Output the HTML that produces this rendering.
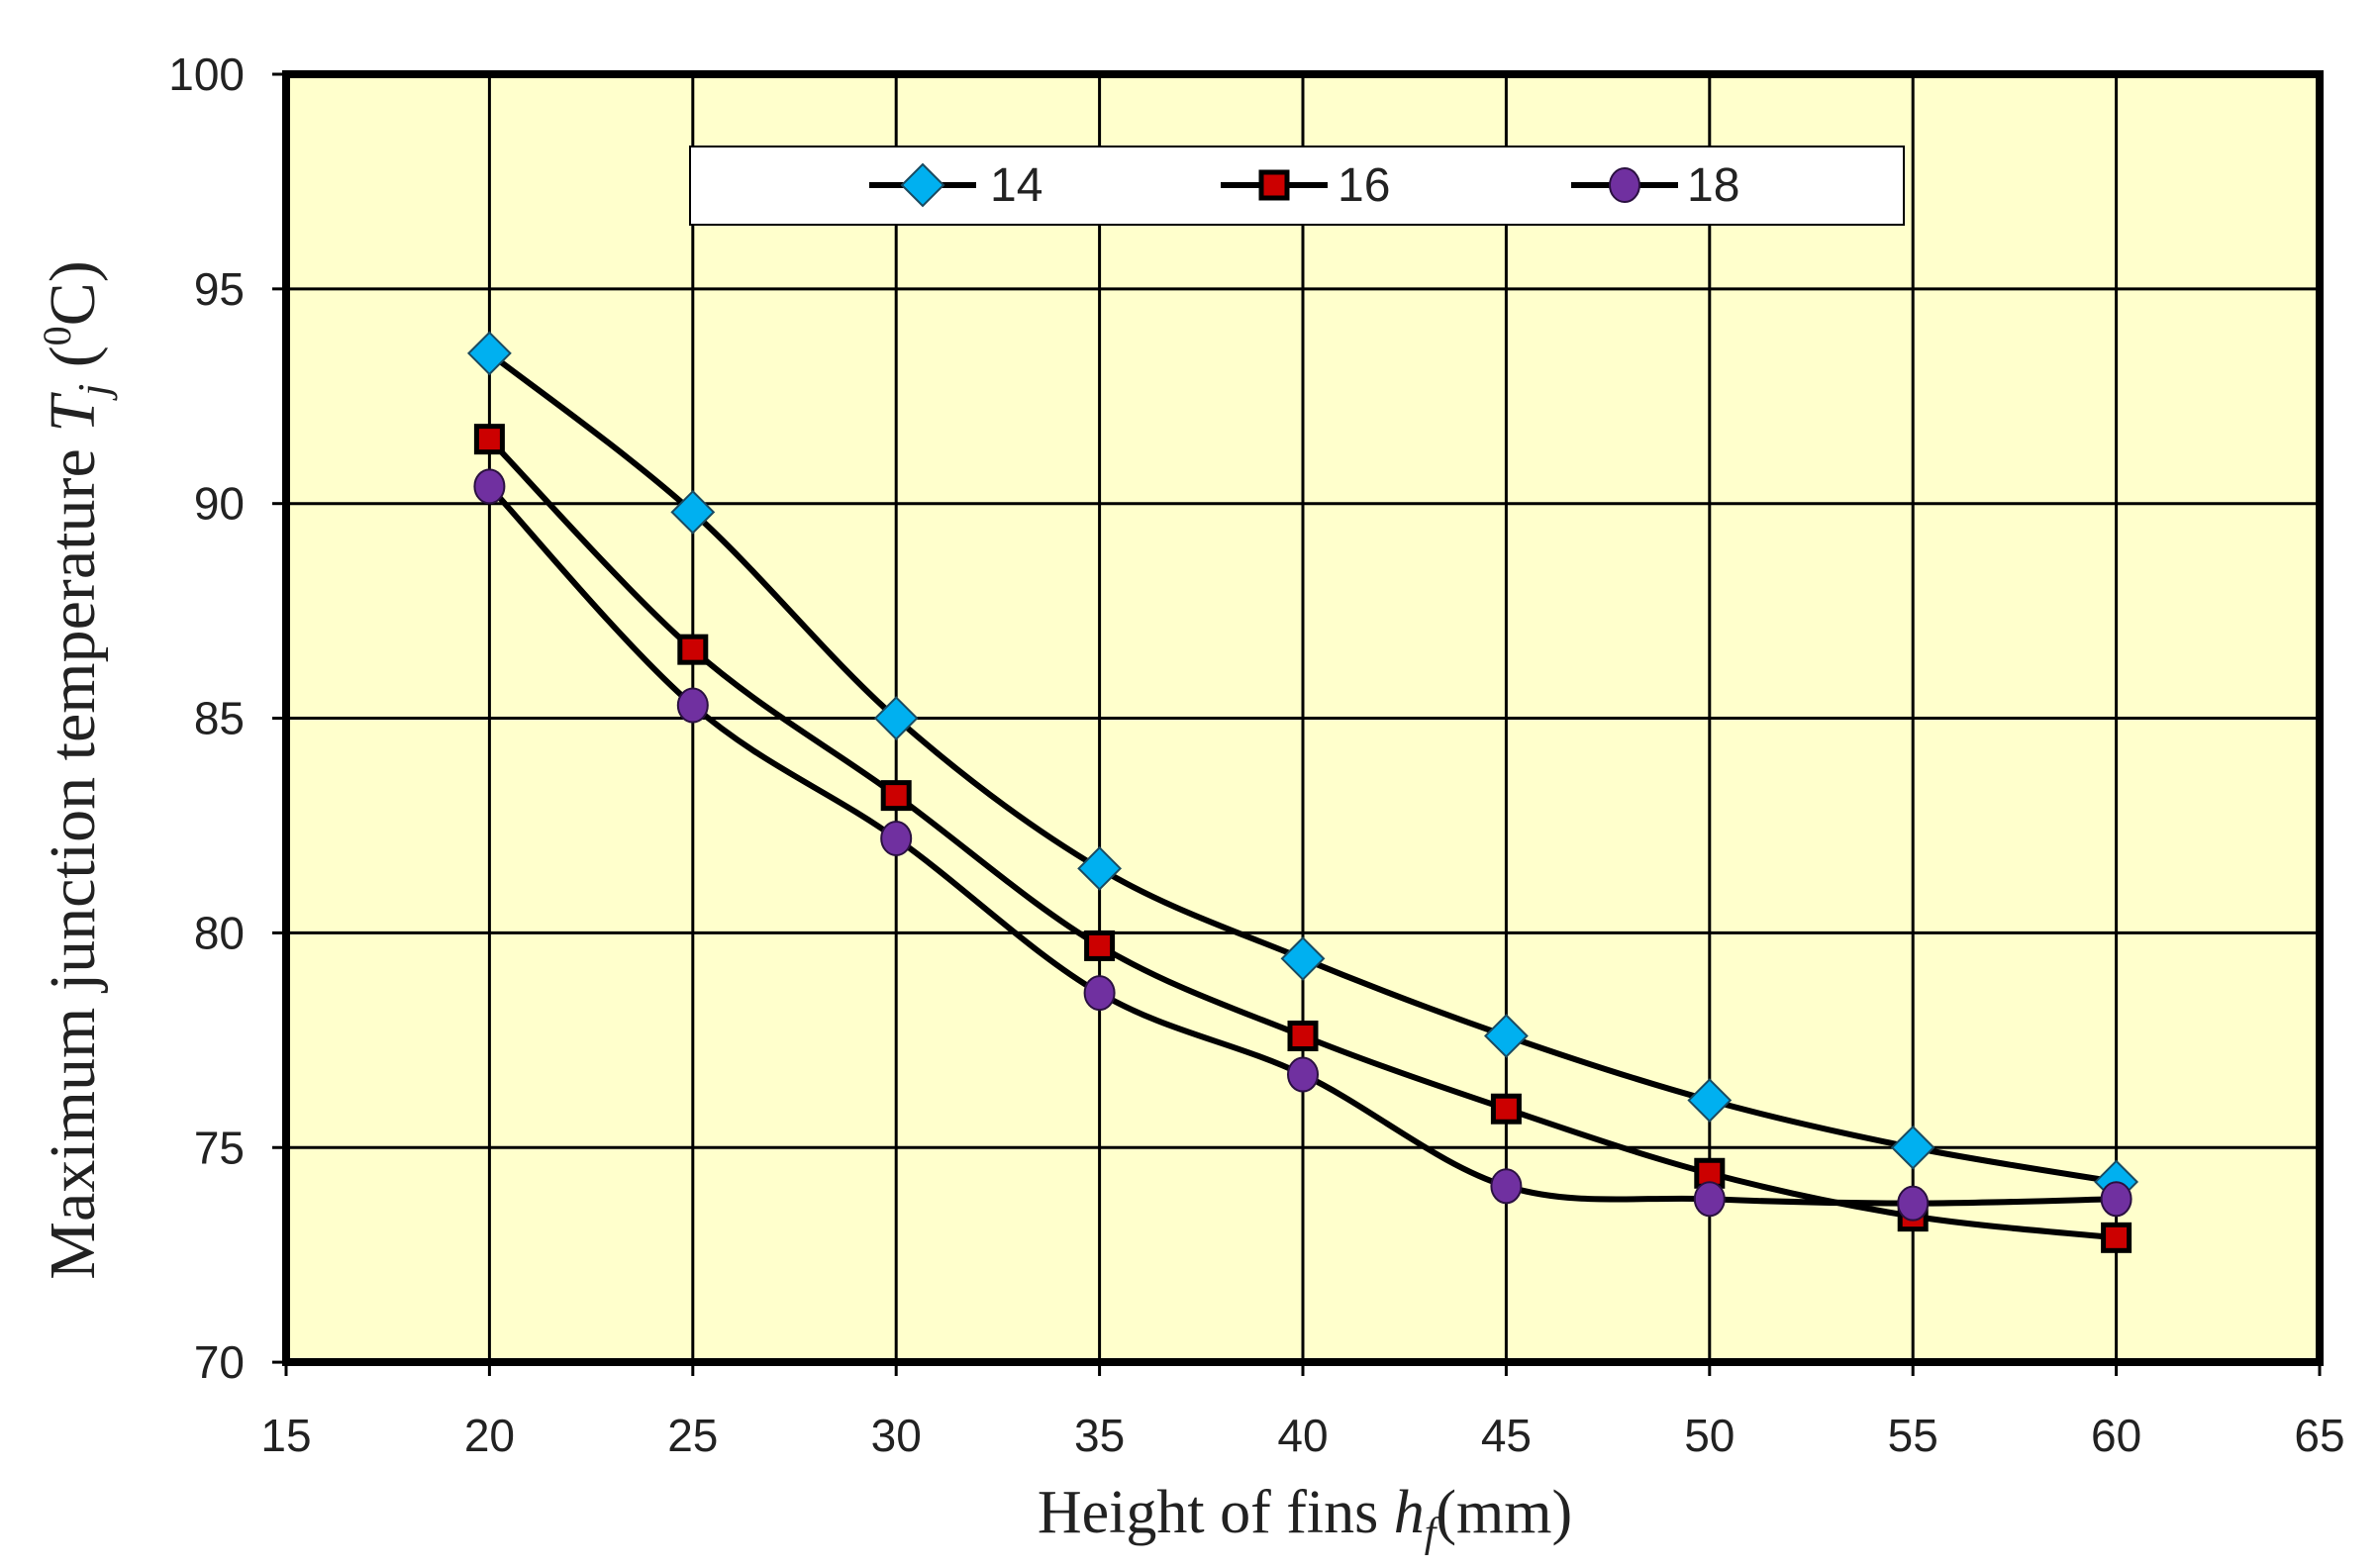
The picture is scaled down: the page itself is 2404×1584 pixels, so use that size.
<!DOCTYPE html>
<html><head><meta charset="utf-8"><style>
html,body{margin:0;padding:0;background:#fff;}
svg{display:block;}
</style></head><body>
<svg id="s" width="2404" height="1584" xmlns="http://www.w3.org/2000/svg">
<rect x="0" y="0" width="2404" height="1584" fill="#fff"/>
<rect x="289" y="75" width="2054" height="1301" fill="#ffffcc"/>
<g id="grid" stroke="#000" stroke-width="3"></g>
<g id="series"></g>
<rect x="289" y="75" width="2054" height="1301" fill="none" stroke="#000" stroke-width="8"/>
<g id="labels" font-family="'Liberation Sans', sans-serif" font-size="46" fill="#222"></g>
<rect x="697" y="148" width="1226" height="79" fill="#fff" stroke="#000" stroke-width="2"/>
<g id="legend"></g>
<text x="1000" y="203" font-family="'Liberation Sans', sans-serif" font-size="48" fill="#222">14</text>
<text x="1351" y="203" font-family="'Liberation Sans', sans-serif" font-size="48" fill="#222">16</text>
<text x="1704" y="203" font-family="'Liberation Sans', sans-serif" font-size="48" fill="#222">18</text>
<text x="1318" y="1548" text-anchor="middle" font-family="'Liberation Serif', serif" font-size="62" fill="#222">Height of fins <tspan font-style="italic">h</tspan><tspan font-style="italic" font-size="42" dy="14">f</tspan><tspan dy="-14">(mm)</tspan></text>
<text transform="translate(95,778) rotate(-90)" text-anchor="middle" font-family="'Liberation Serif', serif" font-size="66" fill="#222">Maximum junction temperature <tspan font-style="italic">T</tspan><tspan font-style="italic" font-size="44" dy="14">j</tspan><tspan dy="-14"> (</tspan><tspan font-size="40" dy="-24">0</tspan><tspan dy="24">C)</tspan></text>
</svg>
<script>
var NS="http://www.w3.org/2000/svg";
function X(v){return 289+(v-15)*41.08;}
function Y(v){return 75+(100-v)*43.37;}
function el(p,t,a){var e=document.createElementNS(NS,t);for(var k in a)e.setAttribute(k,a[k]);p.appendChild(e);return e;}
var g=document.getElementById('grid'),L=document.getElementById('labels');
for(var x=20;x<=60;x+=5)el(g,'line',{x1:X(x),x2:X(x),y1:75,y2:1376});
for(var y=75;y<=95;y+=5)el(g,'line',{x1:289,x2:2343,y1:Y(y),y2:Y(y)});
for(var x=15;x<=65;x+=5){el(g,'line',{x1:X(x),x2:X(x),y1:1376,y2:1390});var t=el(L,'text',{x:X(x),y:1466,'text-anchor':'middle'});t.textContent=x;}
for(var y=70;y<=100;y+=5){el(g,'line',{x1:275,x2:289,y1:Y(y),y2:Y(y)});var t=el(L,'text',{x:247,y:Y(y)+16,'text-anchor':'end'});t.textContent=y;}
var xs=[20,25,30,35,40,45,50,55,60];
var D=[[93.5,89.8,85.0,81.5,79.4,77.6,76.1,75.0,74.2],
[91.5,86.6,83.2,79.7,77.6,75.9,74.4,73.4,72.9],
[90.4,85.3,82.2,78.6,76.7,74.1,73.8,73.7,73.8]];
var S=document.getElementById('series');
function path(P){var d='M'+P[0][0]+','+P[0][1];for(var i=0;i<P.length-1;i++){var p0=P[Math.max(i-1,0)],p1=P[i],p2=P[i+1],p3=P[Math.min(i+2,P.length-1)];
d+=' C'+(p1[0]+(p2[0]-p0[0])/6)+','+(p1[1]+(p2[1]-p0[1])/6)+' '+(p2[0]-(p3[0]-p1[0])/6)+','+(p2[1]-(p3[1]-p1[1])/6)+' '+p2[0]+','+p2[1];}return d;}
function marker(p,k,cx,cy){
if(k==0)el(p,'polygon',{points:(cx)+','+(cy-21)+' '+(cx+21)+','+cy+' '+cx+','+(cy+21)+' '+(cx-21)+','+cy,fill:'#00b0f0',stroke:'#1a4a60','stroke-width':2});
else if(k==1)el(p,'rect',{x:cx-13,y:cy-13,width:26,height:26,fill:'#cc0000',stroke:'#000','stroke-width':5});
else el(p,'ellipse',{cx:cx,cy:cy,rx:15,ry:17,fill:'#7030a0',stroke:'#2a1040','stroke-width':2});}
for(var k=0;k<3;k++){var P=xs.map(function(x,i){return [X(x),Y(D[k][i])];});
el(S,'path',{d:path(P),fill:'none',stroke:'#000','stroke-width':6});}
for(var k=0;k<3;k++)xs.forEach(function(x,i){marker(S,k,X(x),Y(D[k][i]));});
var LG=document.getElementById('legend');var lx=[[878,986,932],[1233,1341,1287],[1587,1695,1641]];
for(var k=0;k<3;k++){el(LG,'line',{x1:lx[k][0],x2:lx[k][1],y1:187,y2:187,stroke:'#000','stroke-width':6});marker(LG,k,lx[k][2],187);}
</script>
</body></html>
